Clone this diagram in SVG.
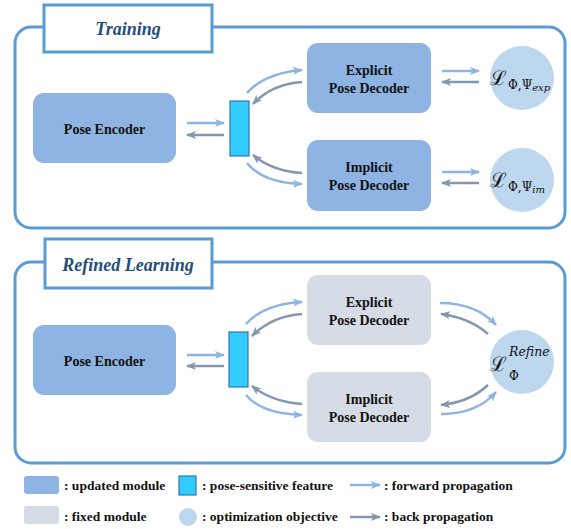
<svg xmlns="http://www.w3.org/2000/svg" width="571" height="529" viewBox="0 0 571 529">
<defs>
<style>
.panel{fill:none;stroke:#5b9bd5;stroke-width:3}
.tbox{fill:#fff;stroke:#5b9bd5;stroke-width:3}
.title{font-family:"Liberation Serif",serif;font-weight:bold;font-style:italic;font-size:18px;fill:#1f4e79;text-anchor:middle}
.upd{fill:#8db4e2}
.fix{fill:#d6dce5}
.feat{fill:#33ccff;stroke:#2e75b6;stroke-width:1.2}
.obj{fill:#bdd7ee}
.lbl{font-family:"Liberation Serif",serif;font-weight:bold;font-size:14px;fill:#111;text-anchor:middle}
.leg{font-family:"Liberation Serif",serif;font-weight:bold;font-size:13.5px;fill:#111}
.fw{fill:none;stroke:#8db4e2;stroke-width:2.5;marker-end:url(#hf)}
.bk{fill:none;stroke:#8497b0;stroke-width:2.5;marker-end:url(#hb)}
.math{font-family:"DejaVu Serif","Liberation Serif",serif;fill:#111}
</style>
<marker id="hf" markerUnits="userSpaceOnUse" markerWidth="10" markerHeight="10" viewBox="0 0 10 10" refX="9" refY="5" orient="auto"><path d="M0,1 L10,5 L0,9 L2.5,5 Z" fill="#8db4e2"/></marker>
<marker id="hb" markerUnits="userSpaceOnUse" markerWidth="10" markerHeight="10" viewBox="0 0 10 10" refX="9" refY="5" orient="auto"><path d="M0,1 L10,5 L0,9 L2.5,5 Z" fill="#8497b0"/></marker>
</defs>
<rect width="571" height="529" fill="#fff"/>

<g id="training-panel">
<rect class="panel" x="15" y="27" width="550" height="201" rx="16"/>
<rect class="tbox" x="44" y="5" width="168" height="47"/>
<text class="title" x="128" y="35">Training</text>
</g>
<g id="refined-panel">
<rect class="panel" x="15" y="262" width="550" height="201" rx="16"/>
<rect class="tbox" x="45" y="239" width="167" height="49"/>
<text class="title" x="128" y="271">Refined Learning</text>
</g>

<g id="t-encoder"><rect class="upd" x="33" y="93" width="143" height="70" rx="11"/><text class="lbl" x="104.5" y="134">Pose Encoder</text></g>
<g id="t-feature"><rect class="feat" x="230" y="101" width="19" height="55"/></g>
<g id="t-explicit"><rect class="upd" x="307" y="43" width="124" height="70" rx="11"/><text class="lbl" x="369" y="75">Explicit</text><text class="lbl" x="369" y="93">Pose Decoder</text></g>
<g id="t-implicit"><rect class="upd" x="307" y="140" width="124" height="71" rx="11"/><text class="lbl" x="369" y="172">Implicit</text><text class="lbl" x="369" y="190">Pose Decoder</text></g>
<g id="t-loss-exp"><circle class="obj" cx="522" cy="78" r="32"/><text class="math" x="490" y="85" font-size="20">ℒ</text><text class="math" x="508" y="89" font-size="12">Φ,Ψ<tspan font-style="italic" font-size="10" dy="2">exp</tspan></text></g>
<g id="t-loss-im"><circle class="obj" cx="522" cy="180" r="32"/><text class="math" x="490" y="187" font-size="20">ℒ</text><text class="math" x="508" y="191" font-size="12">Φ,Ψ<tspan font-style="italic" font-size="10" dy="2">im</tspan></text></g>

<g id="r-encoder"><rect class="upd" x="33" y="325" width="143" height="70" rx="11"/><text class="lbl" x="104.5" y="366">Pose Encoder</text></g>
<g id="r-feature"><rect class="feat" x="229" y="332" width="19" height="55"/></g>
<g id="r-explicit"><rect class="fix" x="307" y="275" width="124" height="70" rx="11"/><text class="lbl" x="369" y="307">Explicit</text><text class="lbl" x="369" y="325">Pose Decoder</text></g>
<g id="r-implicit"><rect class="fix" x="307" y="372" width="124" height="70" rx="11"/><text class="lbl" x="369" y="404">Implicit</text><text class="lbl" x="369" y="422">Pose Decoder</text></g>
<g id="r-loss"><circle class="obj" cx="522" cy="362" r="32"/><text class="math" x="490" y="371" font-size="20">ℒ</text><text class="math" x="509" y="356" font-size="12.5" font-style="italic">Refine</text><text class="math" x="509" y="380" font-size="12">Φ</text></g>

<g id="connectors">
<path class="fw" d="M187,123 H224"/>
<path class="bk" d="M224,135 H187"/>
<path class="fw" d="M247,93 Q265,73 302,70"/>
<path class="bk" d="M302,82 Q272,84 253,104"/>
<path class="bk" d="M302,173 Q272,171 253,155"/>
<path class="fw" d="M247,163 Q263,183 302,184"/>
<path class="fw" d="M442,71 H479"/>
<path class="bk" d="M479,82 H442"/>
<path class="fw" d="M442,172 H479"/>
<path class="bk" d="M479,183 H442"/>

<path class="fw" d="M187,355 H224"/>
<path class="bk" d="M224,366 H187"/>
<path class="fw" d="M246,324 Q264,304 302,302"/>
<path class="bk" d="M302,314 Q272,316 252,336"/>
<path class="bk" d="M302,404 Q272,402 252,386"/>
<path class="fw" d="M246,395 Q262,414 302,415"/>
<path class="fw" d="M440,303 Q476,303 496,325"/>
<path class="bk" d="M488,334 Q470,318 441,314"/>
<path class="bk" d="M488,385 Q470,402 441,405"/>
<path class="fw" d="M441,414 Q477,414 496,392"/>
</g>

<g id="legend">
<rect class="upd" x="24" y="476" width="35" height="18" rx="3"/>
<text class="leg" x="64" y="490">: updated module</text>
<rect class="feat" x="179" y="476" width="17" height="19"/>
<text class="leg" x="202" y="490">: pose-sensitive feature</text>
<path class="fw" d="M350,485 H380"/>
<text class="leg" x="384" y="490">: forward propagation</text>
<rect class="fix" x="24" y="506" width="35" height="18" rx="3"/>
<text class="leg" x="64" y="521">: fixed module</text>
<circle class="obj" cx="188" cy="517" r="9"/>
<text class="leg" x="202" y="521">: optimization objective</text>
<path class="bk" d="M350,517 H380"/>
<text class="leg" x="384" y="521">: back propagation</text>
</g>
</svg>
